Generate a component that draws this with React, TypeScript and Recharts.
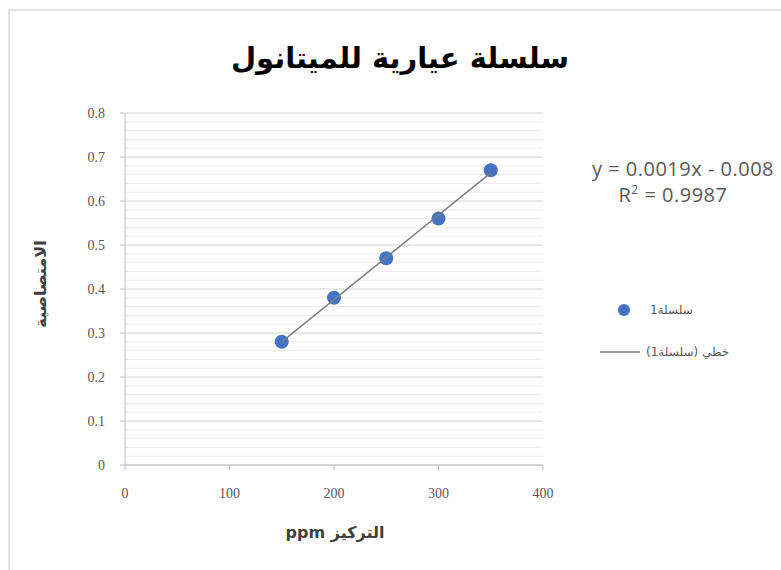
import React from "react";
import {
  CartesianGrid,
  ReferenceLine,
  Scatter,
  ScatterChart,
  XAxis,
  YAxis,
} from "recharts";

// standard series
const concentration = [150, 200, 250, 300, 350];
const absorbance = [0.28, 0.38, 0.47, 0.56, 0.67];

// linear trendline end points (y = 0.0019x - 0.008)
const trendConcentration = [150, 350];
const trendAbsorbance = [0.28, 0.664];

const xTicks = [0, 100, 200, 300, 400];
const yTicks = [0, 0.1, 0.2, 0.3, 0.4, 0.5, 0.6, 0.7, 0.8];
const yMinorTicks = [
  0.02, 0.04, 0.06, 0.08, 0.12, 0.14, 0.16, 0.18, 0.22, 0.24, 0.26, 0.28,
  0.32, 0.34, 0.36, 0.38, 0.42, 0.44, 0.46, 0.48, 0.52, 0.54, 0.56, 0.58,
  0.62, 0.64, 0.66, 0.68, 0.72, 0.74, 0.76, 0.78,
];

const seriesName = "سلسلة1";
const trendName = "خطي (سلسلة1)";

const points = concentration.map((x, i) => ({ x, y: absorbance[i] }));
const trend = trendConcentration.map((x, i) => ({ x, y: trendAbsorbance[i] }));

const arabicFont = '"DejaVu Sans", sans-serif';
const tickStyle = { fontFamily: '"Liberation Serif", serif', fontSize: 14, fill: "#595959" };

function LegendBox() {
  return (
    <div
      style={{
        position: "absolute",
        left: 590,
        top: 300,
        fontFamily: arabicFont,
        fontSize: 12,
        color: "#595959",
      }}
    >
      <div style={{ display: "flex", alignItems: "center", height: 20, marginBottom: 22 }}>
        <svg width={52} height={14}>
          <circle cx={34} cy={7} r={6} fill="#4472C4" />
        </svg>
        <span dir="rtl" style={{ marginLeft: 8 }}>{seriesName}</span>
      </div>
      <div style={{ display: "flex", alignItems: "center", height: 20 }}>
        <svg width={52} height={14}>
          <line x1={10} y1={7} x2={50} y2={7} stroke="#7f7f7f" strokeWidth={1.5} />
        </svg>
        <span dir="rtl" style={{ marginLeft: 4 }}>{trendName}</span>
      </div>
    </div>
  );
}

export default function App() {
  return (
    <div style={{ position: "relative", width: 781, height: 570, overflow: "hidden", background: "#fff" }}>
      <style>{`body{margin:0}`}</style>
      <div
        style={{
          position: "absolute",
          left: 8,
          top: 9,
          width: 820,
          height: 620,
          borderLeft: "2px solid #e2e2e2",
          borderTop: "2px solid #e2e2e2",
        }}
      />
      <div
        dir="rtl"
        style={{
          position: "absolute",
          left: 0,
          width: 800,
          top: 41,
          textAlign: "center",
          fontFamily: arabicFont,
          fontWeight: "bold",
          fontSize: 29,
          color: "#000",
        }}
      >
        سلسلة عيارية للميتانول
      </div>
      <div
        style={{
          position: "absolute",
          left: 578,
          width: 210,
          top: 156,
          textAlign: "center",
          fontFamily: '"Open Sans", sans-serif',
          fontSize: 20,
          letterSpacing: 0.5,
          lineHeight: "26px",
          color: "#595959",
        }}
      >
        <div style={{ whiteSpace: "nowrap" }}>y = 0.0019x - 0.008</div>
        <div style={{ marginRight: 20 }}>
          R<sup style={{ fontSize: 12, lineHeight: 0 }}>2</sup> = 0.9987
        </div>
      </div>
      <div
        dir="rtl"
        style={{
          position: "absolute",
          left: 40,
          top: 284,
          transform: "translate(-50%, -50%) rotate(-90deg)",
          whiteSpace: "nowrap",
          fontFamily: arabicFont,
          fontWeight: "bold",
          fontSize: 16,
          color: "#404040",
        }}
      >
        الامتصاصية
      </div>
      <div
        dir="rtl"
        style={{
          position: "absolute",
          left: 335,
          top: 532,
          transform: "translate(-50%, -50%)",
          whiteSpace: "nowrap",
          fontFamily: arabicFont,
          fontWeight: "bold",
          fontSize: 16,
          color: "#404040",
        }}
      >
        التركيز ppm
      </div>
      <div style={{ position: "absolute", left: 0, top: 0 }}>
        <ScatterChart
          width={781}
          height={570}
          margin={{ top: 113, right: 238, bottom: 65, left: 0 }}
        >
          <CartesianGrid vertical={false} stroke="#d4d4d4" />
          {yMinorTicks.map((v) => (
            <ReferenceLine key={v} y={v} stroke="#ececec" ifOverflow="hidden" />
          ))}
          <XAxis
            type="number"
            dataKey="x"
            domain={[0, 400]}
            ticks={xTicks}
            height={40}
            tick={tickStyle}
            tickLine={{ stroke: "#bfbfbf" }}
            axisLine={{ stroke: "#bfbfbf" }}
            tickSize={5}
            tickMargin={18}
          />
          <YAxis
            type="number"
            dataKey="y"
            domain={[0, 0.8]}
            ticks={yTicks}
            width={125}
            tick={tickStyle}
            tickLine={{ stroke: "#bfbfbf" }}
            axisLine={{ stroke: "#bfbfbf" }}
            tickSize={5}
            tickMargin={15}
          />
          <Scatter
            name={seriesName}
            data={points}
            fill="#4472C4"
            shape={(props: any) => (
              <circle cx={props.cx} cy={props.cy} r={7} fill="#4472C4" />
            )}
            isAnimationActive={false}
          />
          <Scatter
            name={trendName}
            data={trend}
            line={{ stroke: "#7f7f7f", strokeWidth: 1.5 }}
            shape={() => <g />}
            isAnimationActive={false}
          />
        </ScatterChart>
      </div>
      <LegendBox />
    </div>
  );
}
